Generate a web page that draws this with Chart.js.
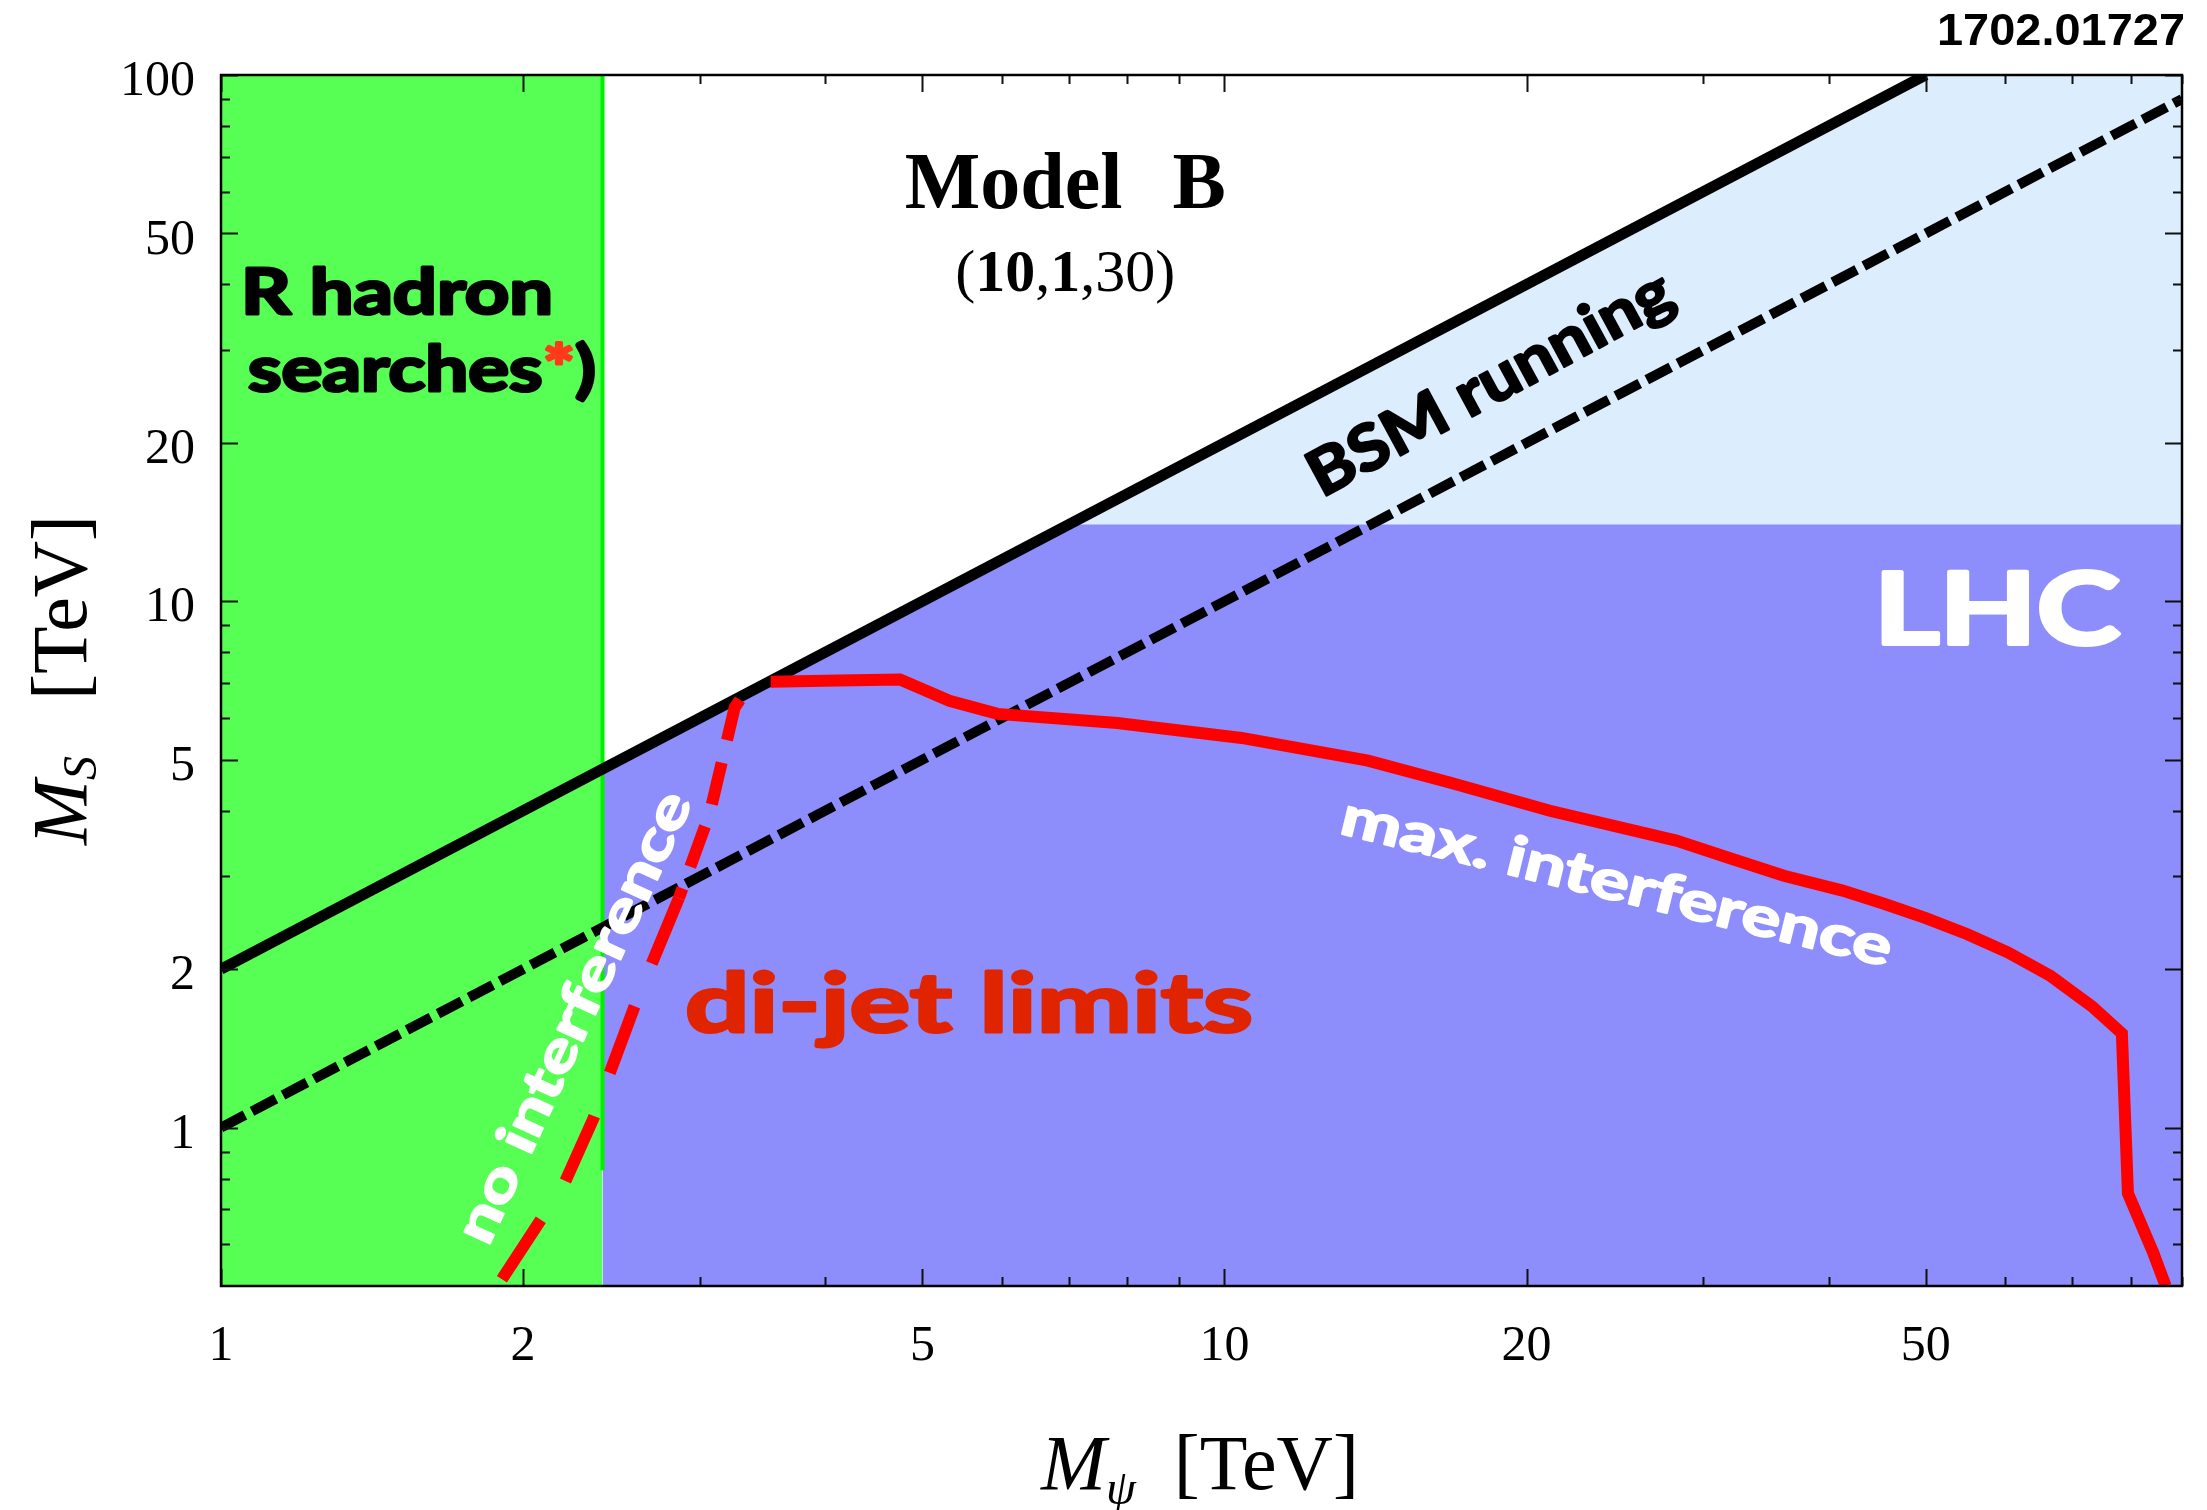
<!DOCTYPE html>
<html>
<head>
<meta charset="utf-8">
<script src="https://cdn.jsdelivr.net/npm/chart.js@4.4.1/dist/chart.umd.min.js"></script>
<style>
  html, body { margin: 0; padding: 0; background: #fff; }
  #chart { display: block; }
</style>
</head>
<body>
<canvas id="chart" width="2207" height="1510"></canvas>
<script>
// axis ranges, TeV
const xRange = [1, 90];
const yRange = [0.5, 100];

// tick labels and tick marks
const xTickLabels = [1, 2, 5, 10, 20, 50];
const yTickLabels = [1, 2, 5, 10, 20, 50, 100];
const xTickMarks = [1, 2, 3, 4, 5, 6, 7, 8, 9, 10, 20, 30, 40, 50, 60, 70, 80, 90];
const yTickMarks = [0.6, 0.7, 0.8, 0.9, 1, 2, 3, 4, 5, 6, 7, 8, 9, 10, 20, 30, 40, 50, 60, 70, 80, 90, 100];

// BSM running lines (M_S vs M_psi)
const bsmSolidX = [1, 50];
const bsmSolidY = [2, 100];
const bsmDashedX = [1, 90];
const bsmDashedY = [1, 90];

// shaded regions
const rHadronX = [1, 2.4];
const rHadronY = [100, 100];
const rHadronEdgeX = [2.4, 2.4];
const rHadronEdgeY = [100, 0.83];
const lhcX = [2.4, 7, 90];
const lhcY = [4.8, 14, 14];
const lhcReachX = [7, 50, 90];
const lhcReachY = [14, 100, 100];

// di-jet limits, max. interference
const maxInterfX = [3.53, 4.12, 4.75, 5.32, 5.94, 7.82, 10.4, 13.9, 16.8, 21.1, 28.2, 31.9, 36.1, 41.3, 45.5, 50.0, 55.0, 60.4, 66.6, 73.2, 78.4, 79.5, 84.2, 86.7];
const maxInterfY = [7.03, 7.07, 7.1, 6.47, 6.11, 5.87, 5.50, 4.98, 4.52, 4.00, 3.51, 3.25, 3.01, 2.82, 2.66, 2.50, 2.33, 2.15, 1.94, 1.70, 1.51, 0.75, 0.58, 0.5];

// di-jet limits, no interference (upper and lower part)
const noInterfTopX = [3.29, 3.25, 3.07, 2.86];
const noInterfTopY = [6.5, 6.28, 3.96, 2.73];
const noInterfLowX = [2.86, 2.69, 2.58, 2.44, 2.35, 2.20, 2.08, 1.90];
const noInterfLowY = [2.73, 2.06, 1.69, 1.27, 1.04, 0.785, 0.665, 0.511];

const SERIF = '"Liberation Serif", "Times New Roman", serif';
const SANS = 'Lato, "Open Sans", sans-serif';

const pts = (xs, ys) => xs.map((x, i) => ({ x: x, y: ys[i] }));

function line(xs, ys, color, width, dash) {
    return {
        data: pts(xs, ys),
        borderColor: color,
        borderWidth: width,
        borderDash: dash || [],
        fill: false,
        pointRadius: 0
    };
}

function area(xs, ys, color) {
    return {
        data: pts(xs, ys),
        borderColor: 'rgba(0,0,0,0)',
        borderWidth: 0,
        backgroundColor: color,
        fill: 'start',
        pointRadius: 0
    };
}

// draw a label, optionally stretched to a target width and thickened by a stroke
function drawText(ctx, text, o) {
    ctx.save();
    ctx.translate(o.x, o.y);
    if (o.angle) ctx.rotate(o.angle * Math.PI / 180);
    ctx.font = `${o.weight || 'bold'} ${o.size}px ${o.family || SANS}`;
    const w = ctx.measureText(text).width;
    if (o.width) ctx.scale(o.width / w, 1);
    ctx.textAlign = o.align || 'left';
    ctx.textBaseline = o.baseline || 'alphabetic';
    ctx.fillStyle = o.color || '#000';
    ctx.fillText(text, 0, 0);
    if (o.stroke) {
        ctx.lineJoin = 'round';
        ctx.lineWidth = o.stroke;
        ctx.strokeStyle = o.color || '#000';
        ctx.strokeText(text, 0, 0);
    }
    ctx.restore();
}

// text made of several runs with their own fonts
function drawRuns(ctx, runs, x, y, align, angle, width, stroke) {
    ctx.save();
    ctx.translate(x, y);
    if (angle) ctx.rotate(angle * Math.PI / 180);
    ctx.textBaseline = 'alphabetic';
    ctx.textAlign = 'left';
    let total = 0;
    runs.forEach(r => { ctx.font = r.font; total += ctx.measureText(r.t).width + (r.gap || 0); });
    if (width) { ctx.scale(width / total, 1); }
    let cx = align === 'center' ? -total / 2 : 0;
    runs.forEach(r => {
        ctx.font = r.font;
        ctx.fillStyle = r.color || '#000';
        ctx.fillText(r.t, cx, r.dy || 0);
        if (stroke) {
            ctx.lineJoin = 'round';
            ctx.lineWidth = stroke;
            ctx.strokeStyle = r.color || '#000';
            ctx.strokeText(r.t, cx, r.dy || 0);
        }
        cx += ctx.measureText(r.t).width + (r.gap || 0);
    });
    ctx.restore();
}

const decorations = {
    id: 'decorations',
    afterDatasetsDraw(chart) {
        const { ctx, chartArea: a, scales: { x, y } } = chart;
        ctx.save();
        ctx.strokeStyle = '#111';
        ctx.lineWidth = 2;
        ctx.beginPath();
        xTickMarks.forEach(v => {
            const px = Math.round(x.getPixelForValue(v)) + 0.5;
            const len = xTickLabels.includes(v) ? 17 : 9;
            ctx.moveTo(px, a.bottom); ctx.lineTo(px, a.bottom - len);
            ctx.moveTo(px, a.top); ctx.lineTo(px, a.top + len);
        });
        yTickMarks.forEach(v => {
            const py = Math.round(y.getPixelForValue(v)) + 0.5;
            const len = yTickLabels.includes(v) ? 17 : 9;
            ctx.moveTo(a.left, py); ctx.lineTo(a.left + len, py);
            ctx.moveTo(a.right, py); ctx.lineTo(a.right - len, py);
        });
        ctx.stroke();
        ctx.lineWidth = 2.5;
        ctx.strokeStyle = '#000';
        ctx.strokeRect(a.left, a.top, a.right - a.left, a.bottom - a.top);
        ctx.restore();

        const X = v => x.getPixelForValue(v);
        const Y = v => y.getPixelForValue(v);

        // titles inside the plot
        drawRuns(ctx, [
            { t: 'Model', font: `bold 80px ${SERIF}`, gap: 50 },
            { t: 'B', font: `bold 80px ${SERIF}` }
        ], X(6.94), Y(56), 'center');
        drawRuns(ctx, [
            { t: '(', font: `60px ${SERIF}` },
            { t: '10', font: `bold 60px ${SERIF}` },
            { t: ',', font: `60px ${SERIF}` },
            { t: '1', font: `bold 60px ${SERIF}` },
            { t: ',30)', font: `60px ${SERIF}` }
        ], X(6.94), Y(38.9), 'center');

        drawText(ctx, 'R hadron', { x: X(1.047), y: Y(35.2), size: 63, width: 312, stroke: 3 });
        drawRuns(ctx, [
            { t: 'searches', font: `bold 63px ${SANS}` },
            { t: '*', font: `bold 63px ${SANS}`, color: '#ff3a1a' },
            { t: ')', font: `bold 63px ${SANS}` }
        ], X(1.064), Y(25.1), 'left', 0, 348, 3);

        drawText(ctx, 'LHC', { x: X(44.4), y: Y(8.31), size: 100, width: 246, color: '#fff', stroke: 4 });
        drawText(ctx, 'di-jet limits', { x: X(2.9), y: Y(1.52), size: 83, width: 568, color: '#e12400', stroke: 3 });
        drawText(ctx, 'BSM running', { x: X(18.4), y: Y(25.9), size: 63, width: 405, angle: -28.4, align: 'center', baseline: 'middle', stroke: 2.5 });
        drawText(ctx, 'max. interference', { x: X(24.6), y: Y(2.92), size: 55, width: 565, angle: 13.7, align: 'center', baseline: 'middle', color: '#fff', stroke: 2 });
        drawText(ctx, 'no interference', { x: X(2.25), y: Y(1.62), size: 55, width: 490, angle: -65.3, align: 'center', baseline: 'middle', color: '#fff', stroke: 2 });
    },
    afterDraw(chart) {
        const { ctx, chartArea: a } = chart;
        drawText(ctx, '1702.01727', { x: a.right + 3, y: 45, size: 44, width: 248, align: 'right', family: '"Liberation Sans Narrow", "Liberation Sans", sans-serif' });

        // axis titles
        drawRuns(ctx, [
            { t: 'M', font: `italic 78px ${SERIF}` },
            { t: 'ψ', font: `italic 48px ${SERIF}`, dy: 15, gap: 38 },
            { t: '[TeV]', font: `78px ${SERIF}` }
        ], 1041, 1489, 'left');
        drawRuns(ctx, [
            { t: 'M', font: `italic 78px ${SERIF}` },
            { t: 'S', font: `italic 48px ${SERIF}`, dy: 10, gap: 56 },
            { t: '[TeV]', font: `78px ${SERIF}` }
        ], 86, 845, 'left', -90);
    }
};

const ctx = document.getElementById('chart').getContext('2d');
const chart = new Chart(ctx, {
    type: 'line',
    data: {
        datasets: [
            line(noInterfTopX, noInterfTopY, '#ff0000', 12, [43, 23]),
            line(noInterfLowX, noInterfLowY, '#ff0000', 12, [71, 46]),
            line(maxInterfX, maxInterfY, '#ff0000', 12),
            line(bsmSolidX, bsmSolidY, '#000000', 11),
            line(bsmDashedX, bsmDashedY, '#000000', 10, [27, 8]),
            line(rHadronEdgeX, rHadronEdgeY, '#00f000', 4),
            area(rHadronX, rHadronY, '#57ff55'),
            area(lhcX, lhcY, '#8d8dfc'),
            area(lhcReachX, lhcReachY, '#dcedfd')
        ]
    },
    options: {
        responsive: false,
        animation: false,
        devicePixelRatio: 1,
        layout: { padding: { top: 75, right: 25, left: 0, bottom: 0 } },
        plugins: { legend: { display: false }, tooltip: { enabled: false } },
        elements: { line: { tension: 0 }, point: { radius: 0 } },
        scales: {
            x: {
                type: 'logarithmic',
                min: xRange[0],
                max: xRange[1],
                afterFit: s => { s.height = 224; },
                afterBuildTicks: s => { s.ticks = xTickLabels.map(v => ({ value: v })); },
                ticks: {
                    callback: v => String(v),
                    font: { family: SERIF, size: 50 },
                    color: '#000',
                    padding: 23,
                    maxRotation: 0,
                    autoSkip: false
                },
                grid: { display: false },
                border: { display: false }
            },
            y: {
                type: 'logarithmic',
                min: yRange[0],
                max: yRange[1],
                afterFit: s => { s.width = 221; },
                afterBuildTicks: s => { s.ticks = yTickLabels.map(v => ({ value: v })); },
                ticks: {
                    callback: v => String(v),
                    font: { family: SERIF, size: 50 },
                    color: '#000',
                    padding: 18,
                    labelOffset: 7,
                    autoSkip: false
                },
                grid: { display: false },
                border: { display: false }
            }
        }
    },
    plugins: [decorations]
});
</script>
</body>
</html>
